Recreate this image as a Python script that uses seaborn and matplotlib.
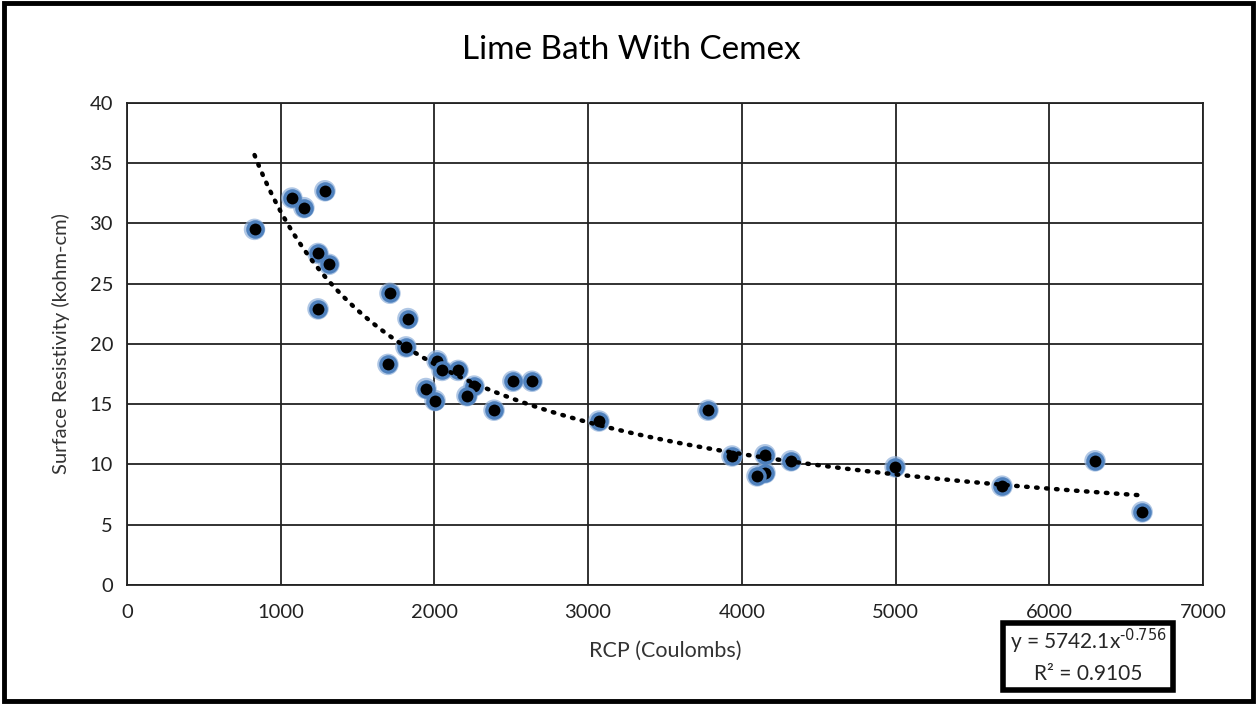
import numpy as np
import pandas as pd
import matplotlib
matplotlib.use("Agg")
import matplotlib.pyplot as plt
import seaborn as sns
from matplotlib.patches import Rectangle

rcp = [830, 1073, 1151, 1288, 1243, 1314, 1243, 1711, 1828, 1815, 1698, 2017,
       2050, 2154, 1945, 2258, 2212, 2004, 2388, 2511, 2635, 3071, 3780, 3936,
       4151, 4151, 4099, 4320, 4997, 5693, 6298, 6604]
resistivity = [29.5, 32.1, 31.3, 32.7, 27.5, 26.6, 22.9, 24.2, 22.1, 19.75, 18.3, 18.6,
               17.8, 17.8, 16.3, 16.5, 15.7, 15.3, 14.5, 16.9, 16.9, 13.6, 14.5, 10.7,
               10.8, 9.3, 9.05, 10.3, 9.8, 8.2, 10.3, 6.06]
fit_a = 5742.1
fit_b = -0.756
r_squared = 0.9105
x_ticks = [0, 1000, 2000, 3000, 4000, 5000, 6000, 7000]
y_ticks = [0, 5, 10, 15, 20, 25, 30, 35, 40]

sns.set_theme(style="white")
plt.rcParams['font.family'] = ['Lato', 'DejaVu Sans']

df = pd.DataFrame({"RCP": rcp, "SR": resistivity})
xs = np.linspace(min(rcp), max(rcp), 200)
trend = pd.DataFrame({"RCP": xs, "SR": fit_a * xs ** fit_b})

fig = plt.figure(figsize=(12.57, 7.04), dpi=100)
ax = fig.add_axes([0.101, 0.169, 0.856, 0.685])

# glow layer
sns.scatterplot(data=df, x="RCP", y="SR", ax=ax, s=240, color="#8fb0da",
                edgecolor="none", alpha=0.7, zorder=3, legend=False)
sns.scatterplot(data=df, x="RCP", y="SR", ax=ax, s=120, color="black",
                edgecolor="#4F81BD", linewidth=2.4, zorder=4, legend=False)
sns.lineplot(data=trend, x="RCP", y="SR", ax=ax, color="black", linewidth=3.2,
             linestyle=(0, (0.35, 1.9)), zorder=5)
for l in ax.lines:
    l.set_dash_capstyle("round")

ax.set_xlim(0, 7000)
ax.set_ylim(0, 40)
ax.set_xticks(x_ticks)
ax.set_yticks(y_ticks)
ax.grid(True, color="#222222", linewidth=1.3)
ax.set_axisbelow(True)
for s in ax.spines.values():
    s.set_color("#222222")
    s.set_linewidth(1.3)
ax.tick_params(axis="x", length=0, pad=14, labelsize=14.5, colors="#222222")
ax.tick_params(axis="y", length=0, pad=10, labelsize=14.5, colors="#222222")
ax.set_xlabel("RCP (Coulombs)", fontsize=15.5, color="#333333", labelpad=14)
ax.set_ylabel("Surface Resistivity (kohm-cm)", fontsize=14.5, color="#333333", labelpad=14)
fig.text(631 / 1257, 1 - 50 / 704, "Lime Bath With Cemex", ha="center", va="center",
         fontsize=24, color="black")

# equation box
fig.patches.append(Rectangle((1003 / 1257, 1 - 690 / 704), 170 / 1257, 67 / 704,
                             transform=fig.transFigure, fill=False, edgecolor="black",
                             linewidth=4, zorder=10))
fig.text(1088 / 1257, 1 - 641 / 704,
         "y = %.1fx$^{\u2010%.3f}$" % (fit_a, abs(fit_b)), ha="center", va="center",
         fontsize=15)
fig.text(1088 / 1257, 1 - 674 / 704, "R² = %.4f" % r_squared,
         ha="center", va="center", fontsize=15)

# outer frame
fig.patches.append(Rectangle((0.003, 0.004), 0.994, 0.992, transform=fig.transFigure,
                             fill=False, edgecolor="black", linewidth=3.5, zorder=10))

fig.savefig("out.png", dpi=100)
